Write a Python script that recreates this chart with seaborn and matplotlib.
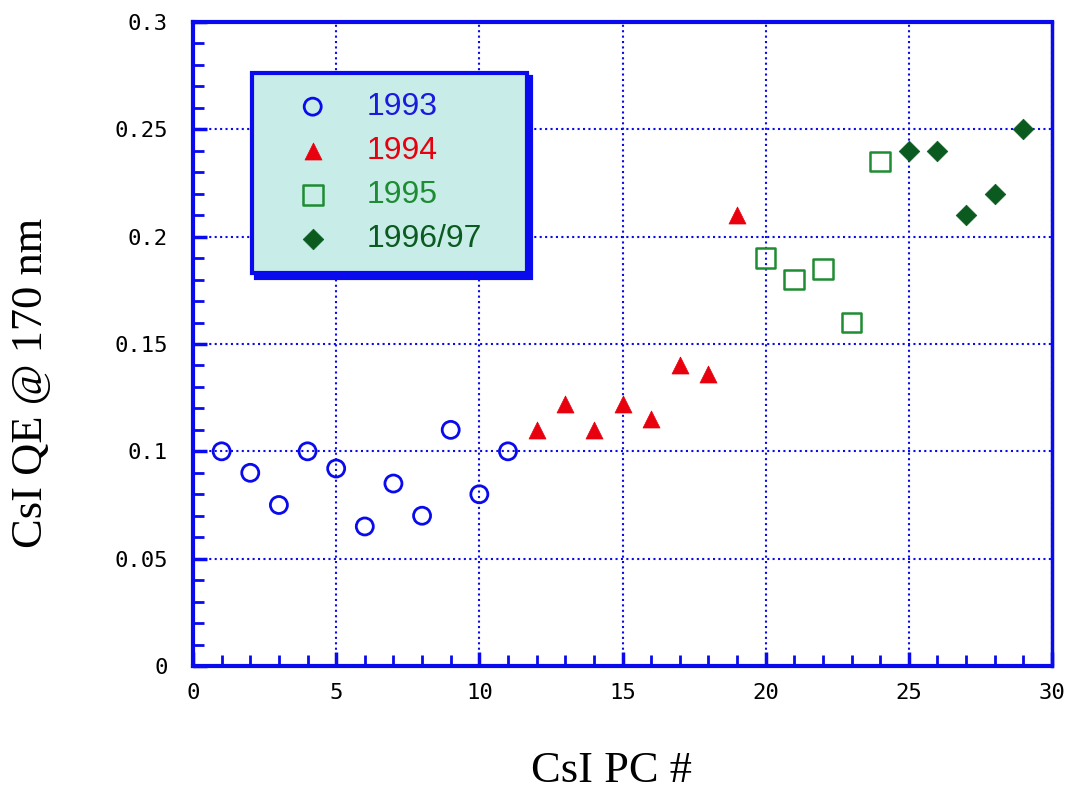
import matplotlib
matplotlib.use("Agg")
import matplotlib.pyplot as plt
import seaborn as sns
import pandas as pd

# ---- data ----
x_1993 = [1, 2, 3, 4, 5, 6, 7, 8, 9, 10, 11]
y_1993 = [0.100, 0.090, 0.075, 0.100, 0.092, 0.065, 0.085, 0.070, 0.110, 0.080, 0.100]
x_1994 = [12, 13, 14, 15, 16, 17, 18, 19]
y_1994 = [0.110, 0.122, 0.110, 0.122, 0.115, 0.140, 0.136, 0.210]
x_1995 = [20, 21, 22, 23, 24]
y_1995 = [0.190, 0.180, 0.185, 0.160, 0.235]
x_1996 = [25, 26, 27, 28, 29]
y_1996 = [0.240, 0.240, 0.210, 0.220, 0.250]
series_labels = ["1993", "1994", "1995", "1996/97"]
x_ticks = [0, 5, 10, 15, 20, 25, 30]
x_tick_labels = ["0", "5", "10", "15", "20", "25", "30"]
y_ticks = [0, 0.05, 0.1, 0.15, 0.2, 0.25, 0.3]
y_tick_labels = ["0", "0.05", "0.1", "0.15", "0.2", "0.25", "0.3"]

BLUE = "#0a0aee"
TXT_BLUE = "#1a1ae0"
RED = "#e8000e"
GREEN = "#1e8c32"
DGREEN = "#0b5a1f"
LEGBG = "#c8ece8"

sns.set_style("white")

fig = plt.figure(figsize=(10.73, 7.90), dpi=100)
ax = fig.add_axes([193/1073, 1 - 666/790, (1052-193)/1073, (666-22)/790])

df1 = pd.DataFrame({"x": x_1993, "y": y_1993})
df2 = pd.DataFrame({"x": x_1994, "y": y_1994})
df3 = pd.DataFrame({"x": x_1995, "y": y_1995})
df4 = pd.DataFrame({"x": x_1996, "y": y_1996})

sns.scatterplot(data=df1, x="x", y="y", ax=ax, marker="o", s=150,
                facecolor="none", edgecolor=BLUE, linewidth=2.0,
                label=series_labels[0], zorder=5)
sns.scatterplot(data=df2, x="x", y="y", ax=ax, marker="^", s=150,
                color=RED, edgecolor=RED, linewidth=0.5,
                label=series_labels[1], zorder=5)
sns.scatterplot(data=df3, x="x", y="y", ax=ax, marker="s", s=200,
                facecolor="none", edgecolor=GREEN, linewidth=1.8,
                label=series_labels[2], zorder=5)
sns.scatterplot(data=df4, x="x", y="y", ax=ax, marker="D", s=110,
                color=DGREEN, edgecolor=DGREEN, linewidth=0.5,
                label=series_labels[3], zorder=5)

ax.set_xlim(0, 30)
ax.set_ylim(0, 0.3)
ax.set_xticks(x_ticks)
ax.set_xticklabels(x_tick_labels)
ax.set_yticks(y_ticks)
ax.set_yticklabels(y_tick_labels)
ax.set_xticks([i for i in range(0, 31)], minor=True)
ax.set_yticks([i * 0.01 for i in range(0, 31)], minor=True)

ax.grid(True, which="major", color=BLUE, linestyle=(0, (1, 1.6)), linewidth=1.5)
ax.grid(False, which="minor")
ax.set_axisbelow(True)

ax.tick_params(axis="both", which="both", bottom=True, left=True, top=False, right=False)
ax.tick_params(axis="both", which="major", direction="in", length=10, width=2.5,
               color=BLUE, labelsize=16, labelcolor="black")
ax.tick_params(axis="both", which="minor", direction="in", length=8, width=2,
               color=BLUE)
ax.tick_params(axis="x", which="major", pad=12)
ax.tick_params(axis="y", which="major", pad=18)
for lab in ax.get_xticklabels() + ax.get_yticklabels():
    lab.set_fontfamily("DejaVu Sans Mono")

for side in ["left", "bottom", "top"]:
    ax.spines[side].set_color(BLUE)
    ax.spines[side].set_linewidth(3)
ax.spines["right"].set_color(BLUE)
ax.spines["right"].set_linewidth(2.5)

ax.set_xlabel("CsI PC #", fontsize=32, fontfamily="Liberation Serif", color="black")
ax.set_ylabel("CsI QE @ 170 nm", fontsize=32, fontfamily="Liberation Serif", color="black")
ax.xaxis.set_label_coords(0.487, -0.132)
ax.yaxis.set_label_coords(-0.165, 0.44)

leg = ax.legend(loc="upper left", bbox_to_anchor=(0.0687, 0.612, 0.32, 0.309),
                mode="expand", borderaxespad=0, frameon=True, fancybox=False,
                facecolor=LEGBG, edgecolor=BLUE, framealpha=1,
                prop={"family": "Liberation Sans", "size": 23},
                labelspacing=0.44, borderpad=0.6, handlelength=2.6,
                handletextpad=0.4, scatterpoints=1,
                shadow={"color": BLUE, "alpha": 1, "ox": 3, "oy": -3})
leg.get_frame().set_linewidth(3)
for t, c in zip(leg.get_texts(), [TXT_BLUE, RED, GREEN, DGREEN]):
    t.set_color(c)

fig.savefig("out.png", dpi=100)
